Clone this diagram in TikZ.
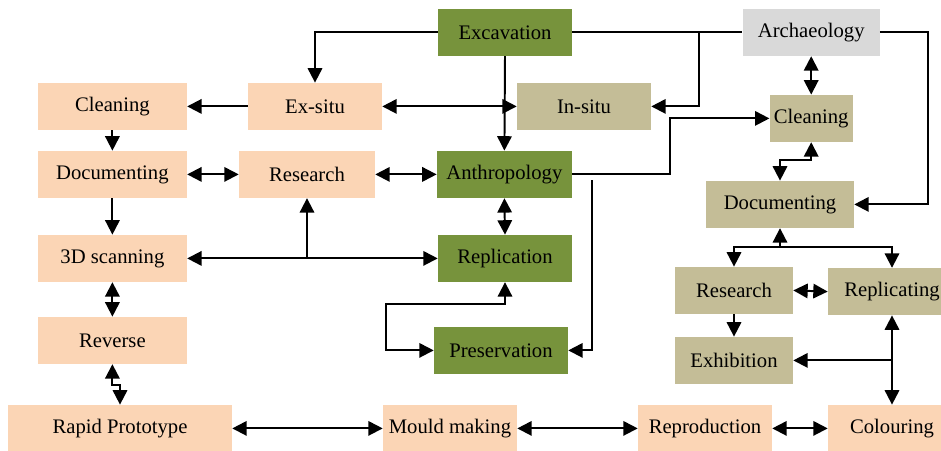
\documentclass[tikz,border=0pt]{standalone}
\usepackage{fontspec}
\setmainfont{Liberation Serif}
\usetikzlibrary{arrows.meta}

\definecolor{peachfill}{HTML}{FBD5B5}
\definecolor{olivefill}{HTML}{77933C}
\definecolor{tanfill}{HTML}{C4BD97}
\definecolor{greyfill}{HTML}{D9D9D9}

\begin{document}
\begin{tikzpicture}[
    box/.style={rectangle, minimum height=1.175cm, inner sep=0pt, font=\fontsize{14.7}{17}\selectfont},
    peachbox/.style={box, fill=peachfill, minimum width=3.35cm},
    olivebox/.style={box, fill=olivefill, minimum width=3.35cm},
    tanbox/.style={box, fill=tanfill, minimum width=3.35cm},
    greybox/.style={box, fill=greyfill, minimum width=3.425cm},
    link/.style={line width=1.4pt},
    arr/.style={link, -{Triangle[length=3.6mm,width=3.6mm]}},
    arrs/.style={link, {Triangle[length=3.6mm,width=3.6mm]}-{Triangle[length=3.6mm,width=3.6mm]}}
]
    \useasboundingbox (0,0) rectangle (23.525,11.25);

    % Top row
    \node[olivebox] (exc) at (12.625,10.44) {Excavation};
    \node[greybox] (arch) at (20.28,10.44) {Archaeology};

    % Ex-situ branch
    \node[peachbox, minimum width=3.725cm] (clean1) at (2.81,8.59) {Cleaning};
    \node[peachbox] (exsitu) at (7.875,8.59) {Ex-situ};
    \node[peachbox, minimum width=3.725cm] (doc1) at (2.81,6.89) {Documenting};
    \node[peachbox, minimum width=3.4cm] (res1) at (7.675,6.89) {Research};
    \node[peachbox, minimum width=3.725cm] (scan) at (2.81,4.79) {3D scanning};
    \node[peachbox, minimum width=3.725cm] (rev) at (2.81,2.74) {Reverse};

    % Anthropology column
    \node[olivebox, minimum width=3.375cm] (anthro) at (12.61,6.89) {Anthropology};
    \node[olivebox] (repl) at (12.625,4.79) {Replication};
    \node[olivebox] (pres) at (12.525,2.49) {Preservation};

    % In-situ branch
    \node[tanbox] (insitu) at (14.6,8.59) {In-situ};
    \node[tanbox, minimum width=2.075cm] (clean2) at (20.28,8.29) {Cleaning};
    \node[tanbox, minimum width=3.7cm] (doc2) at (19.5,6.14) {Documenting};
    \node[tanbox, minimum width=2.95cm] (res2) at (18.35,3.99) {Research};
    \node[tanbox, minimum width=3.2cm] (replic) at (22.3,3.96) {Replicating};
    \node[tanbox, minimum width=2.95cm] (exhib) at (18.35,2.24) {Exhibition};

    % Bottom row
    \node[peachbox, minimum width=5.6cm] (rapid) at (3.0,0.54) {Rapid Prototype};
    \node[peachbox] (mould) at (11.25,0.54) {Mould making};
    \node[peachbox] (repro) at (17.625,0.54) {Reproduction};
    \node[peachbox, minimum width=3.2cm] (colour) at (22.3,0.54) {Colouring};

    % Excavation and Archaeology links
    \draw[arr] (exc.west) -| (exsitu.north);
    \draw[link] (exc.east) -- (arch.west);
    \coordinate (split) at (17.475,10.44);
    \draw[arr] (split) |- (insitu.east);
    \draw[arr] (exc.south) -- (anthro.north);
    \draw[arrs] (exsitu.east) -- (insitu.west);

    % Left column
    \draw[arr] (exsitu.west) -- (clean1.east);
    \draw[arr] (clean1.south) -- (doc1.north);
    \draw[arrs] (doc1.east) -- (res1.west);
    \draw[arrs] (res1.east) -- (anthro.west);
    \draw[arr] (doc1.south) -- (scan.north);
    \draw[arrs] (scan.east) -- (repl.west);
    \draw[arr] (res1.south |- scan.east) -- (res1.south);
    \draw[arrs] (scan.south) -- (rev.north);
    \draw[arrs] (rev.south) -- ++(0,-0.52) -| (rapid.north);

    % Anthropology column
    \draw[arrs] (anthro.south) -- (repl.north);
    \coordinate (loop) at (9.65,3.65);
    \draw[arrs] (repl.south) |- (loop) |- (pres.west);
    \coordinate (bend) at (16.75,8.29);
    \draw[arr] (anthro.east) -| (bend) -- (clean2.west);
    \coordinate (drop) at (14.8,6.75);
    \draw[arr] (drop) |- (pres.east);

    % Right column
    \draw[arrs] (arch.south) -- (clean2.north);
    \draw[arrs] (clean2.south) -- ++(0,-0.45) -| (doc2.north);
    \draw[arr] (arch.east) -- ++(1.2,0) |- (doc2.east);
    \coordinate (fork) at (19.5,5.075);
    \draw[arr] (fork) -- (doc2.south);
    \draw[arr] (fork) -| (res2.north);
    \draw[arr] (fork) -| (replic.north);
    \draw[arrs] (res2.east) -- (replic.west);
    \draw[arr] (res2.south) -- (exhib.north);
    \draw[arrs] (replic.south) -- (colour.north);
    \draw[arr] (replic.south |- exhib.east) -- (exhib.east);

    % Bottom row
    \draw[arrs] (rapid.east) -- (mould.west);
    \draw[arrs] (mould.east) -- (repro.west);
    \draw[arrs] (repro.east) -- (colour.west);
\end{tikzpicture}
\end{document}
